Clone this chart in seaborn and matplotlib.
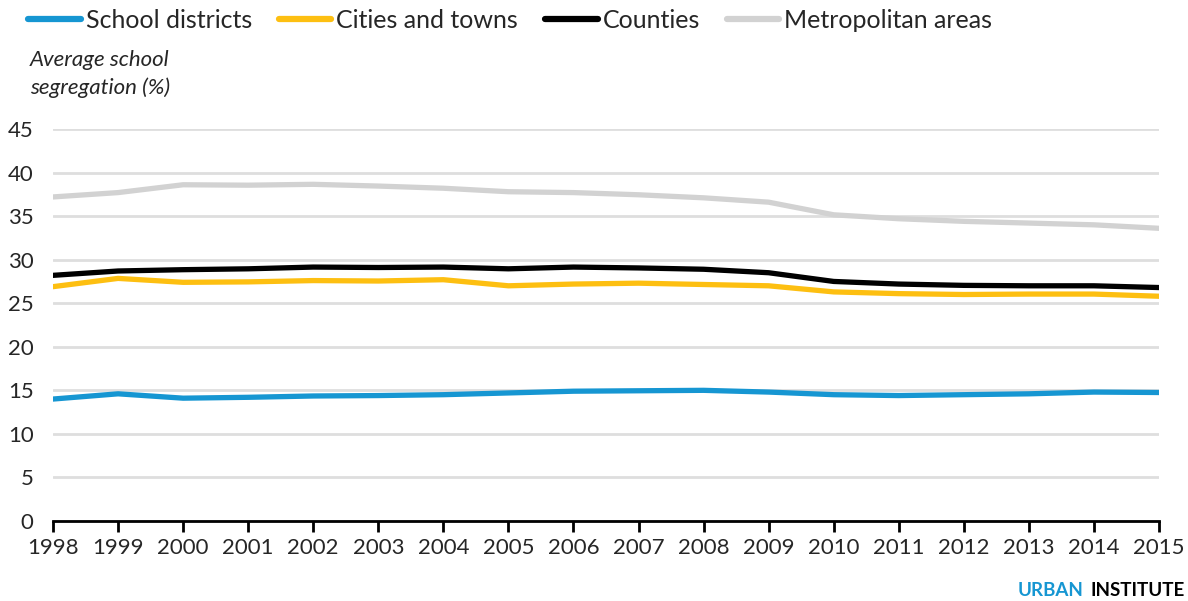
import matplotlib
matplotlib.use("Agg")
import matplotlib.pyplot as plt
import seaborn as sns
import pandas as pd

years = list(range(1998, 2016))
school_districts = [14.0, 14.6, 14.1, 14.2, 14.35, 14.4, 14.5, 14.7, 14.9, 14.95, 15.0, 14.8, 14.5, 14.4, 14.5, 14.6, 14.8, 14.75]
cities_towns = [26.9, 27.85, 27.4, 27.45, 27.6, 27.55, 27.7, 27.0, 27.2, 27.3, 27.15, 27.0, 26.3, 26.1, 26.0, 26.05, 26.05, 25.8]
counties = [28.2, 28.7, 28.85, 28.95, 29.15, 29.1, 29.15, 28.95, 29.15, 29.05, 28.9, 28.5, 27.5, 27.2, 27.05, 27.0, 27.0, 26.8]
metro_areas = [37.2, 37.7, 38.6, 38.55, 38.65, 38.45, 38.2, 37.8, 37.7, 37.45, 37.1, 36.6, 35.15, 34.7, 34.4, 34.2, 34.0, 33.6]

series_names = ["School districts", "Cities and towns", "Counties", "Metropolitan areas"]
colors = ["#1696d2", "#fdbf11", "#000000", "#d2d2d2"]

rows = []
for name, vals in zip(series_names, [school_districts, cities_towns, counties, metro_areas]):
    for y, v in zip(years, vals):
        rows.append({"year": y, "value": v, "series": name})
df = pd.DataFrame(rows)

sns.set_style("white")
plt.rcParams["font.family"] = ["Lato", "DejaVu Sans"]

fig = plt.figure(figsize=(11.88, 6.01), dpi=100)
ax = fig.add_axes([53 / 1188, 1 - 521 / 601, 1106 / 1188, 392 / 601])

sns.lineplot(data=df, x="year", y="value", hue="series", hue_order=series_names,
             palette=colors, linewidth=3.8, ax=ax, legend=False,
             solid_capstyle="round", solid_joinstyle="round", zorder=3)

ax.set_xlim(1998, 2015)
ax.set_ylim(0, 45)
ax.set_xticks(years)
ax.set_yticks(range(0, 50, 5))
ax.set_xlabel("")
ax.set_ylabel("")
ax.yaxis.grid(True, color="#dedede", linewidth=2)
ax.set_axisbelow(True)
for s in ["top", "right", "left"]:
    ax.spines[s].set_visible(False)
ax.spines["bottom"].set_color("black")
ax.spines["bottom"].set_linewidth(2)
ax.spines["bottom"].set_zorder(4)
ax.tick_params(axis="x", direction="out", length=8, width=2, color="black",
               labelsize=16, pad=4, bottom=True)
ax.tick_params(axis="y", length=0, labelsize=16, pad=14)

# legend
handles = [plt.Line2D([0], [0], color=c, linewidth=4.5, solid_capstyle="round") for c in colors]
fig.legend(handles, series_names, loc="center left", bbox_to_anchor=(28 / 1188, 1 - 20 / 601),
           ncol=4, frameon=False, fontsize=18, handlelength=2.1, handletextpad=0.2,
           columnspacing=1.08, borderaxespad=0, borderpad=0)

fig.text(30 / 1188, 1 - 50 / 601, "Average school\nsegregation (%)", fontsize=16,
         style="italic", ha="left", va="top", linespacing=1.45)

fig.text(1018 / 1188, 1 - 591 / 601, "URBAN", color="#1696d2", fontsize=13.5,
         fontweight="bold", ha="left", va="center")
fig.text(1090 / 1188, 1 - 591 / 601, "INSTITUTE", color="black", fontsize=13.5,
         fontweight="bold", ha="left", va="center")

fig.savefig("out.png", dpi=100)
